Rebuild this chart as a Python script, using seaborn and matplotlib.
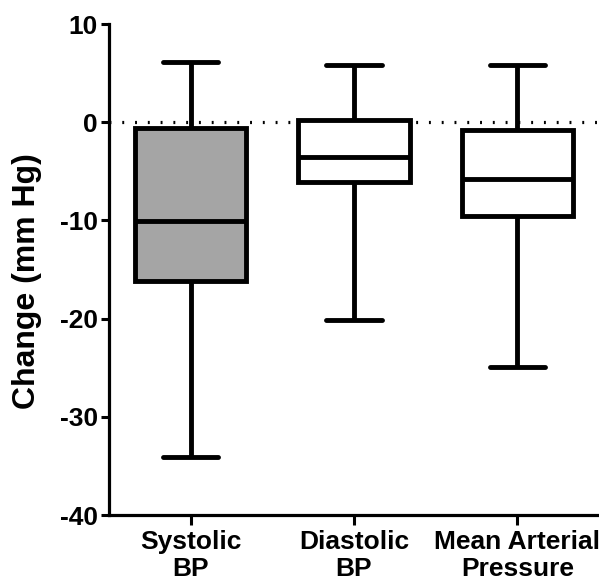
import matplotlib
matplotlib.use("Agg")
import matplotlib.pyplot as plt
import seaborn as sns
import pandas as pd

categories = ["Systolic\nBP", "Diastolic\nBP", "Mean Arterial\nPressure"]
# five-number summaries: min, Q1, median, Q3, max
systolic = [-34.1, -16.2, -10.1, -0.6, 6.1]
diastolic = [-20.1, -6.1, -3.5, 0.2, 5.8]
mean_arterial = [-24.9, -9.5, -5.8, -0.8, 5.8]
fill_colors = ["#a5a5a5", "#ffffff", "#ffffff"]
y_ticks = [10, 0, -10, -20, -30, -40]

rows = []
for cat, vals in zip(categories, [systolic, diastolic, mean_arterial]):
    for v in vals:
        rows.append({"group": cat, "value": v})
df = pd.DataFrame(rows)

sns.set_style("ticks")
plt.rcParams["font.family"] = ["Liberation Sans", "DejaVu Sans"]
plt.rcParams["font.weight"] = "bold"
plt.rcParams["axes.unicode_minus"] = False
plt.rcParams["text.color"] = "black"
plt.rcParams["axes.labelcolor"] = "black"
plt.rcParams["xtick.color"] = "black"
plt.rcParams["ytick.color"] = "black"

fig = plt.figure(figsize=(5.99, 5.86), dpi=100)
ax = fig.add_axes([0.182, 0.121, 0.818, 0.838])

lw = 3.5
sns.boxplot(data=df, x="group", y="value", hue="group", order=categories,
            palette=fill_colors, legend=False, whis=(0, 100), width=0.68,
            linewidth=lw, linecolor="black", ax=ax,
            capprops=dict(linewidth=lw), whiskerprops=dict(linewidth=lw),
            medianprops=dict(linewidth=lw, color="black"),
            boxprops=dict(linewidth=lw, edgecolor="black"))

ax.axhline(0, color="black", linestyle=(0, (0.6, 3.4)), linewidth=2.3, zorder=0)

ax.set_xlim(-0.5, 2.5)
ax.set_ylim(-40, 10)
ax.set_yticks(y_ticks)
ax.set_xlabel("")
ax.set_ylabel("Change (mm Hg)", fontsize=23, fontweight="bold")
ax.yaxis.set_label_coords(-0.136, 0.477)
ax.tick_params(axis="y", labelsize=19, width=2.2, length=6, pad=2, colors="black")
ax.tick_params(axis="x", labelsize=19, width=2.2, length=7, pad=4, colors="black")
ax.set_xticks(range(3))
ax.set_xticklabels(categories, fontsize=19, fontweight="bold", linespacing=1.15)
for lab in ax.get_xticklabels() + ax.get_yticklabels():
    lab.set_fontweight("bold")

for s in ["top", "right"]:
    ax.spines[s].set_visible(False)
for s in ["left", "bottom"]:
    ax.spines[s].set_linewidth(2.3)
    ax.spines[s].set_color("black")

fig.savefig("out.png", dpi=100)
